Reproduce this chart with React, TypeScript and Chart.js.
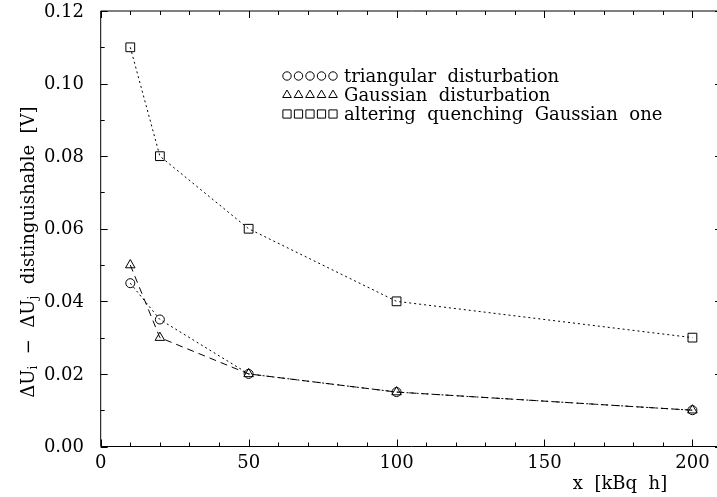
import React, { useEffect, useRef } from "react";
import { Chart, registerables } from "chart.js";

Chart.register(...registerables);

// ---- data ----
const xValues = [10, 20, 50, 100, 200];
const triangularValues = [0.045, 0.035, 0.02, 0.015, 0.01];
const gaussianValues = [0.05, 0.03, 0.02, 0.015, 0.01];
const alteringValues = [0.11, 0.08, 0.06, 0.04, 0.03];
const seriesLabels = [
  "triangular  disturbation",
  "Gaussian  disturbation",
  "altering  quenching  Gaussian  one",
];
const xTickLabels = [0, 50, 100, 150, 200];
const yTickLabels = [0, 0.02, 0.04, 0.06, 0.08, 0.1, 0.12];
const xTitle = "x  [kBq  h]";

const FONT = "DejaVu Serif";

type Shape = "circle" | "triangle" | "rect";
const shapes: Shape[] = ["circle", "triangle", "rect"];
const radii = [4.5, 5.5, 6.2];

function drawMarker(ctx: CanvasRenderingContext2D, shape: Shape, x: number, y: number, r: number) {
  ctx.beginPath();
  if (shape === "circle") {
    ctx.arc(x, y, r, 0, Math.PI * 2);
  } else if (shape === "triangle") {
    let rad = 0;
    ctx.moveTo(x + Math.sin(rad) * r, y - Math.cos(rad) * r);
    rad += (2 * Math.PI) / 3;
    ctx.lineTo(x + Math.sin(rad) * r, y - Math.cos(rad) * r);
    rad += (2 * Math.PI) / 3;
    ctx.lineTo(x + Math.sin(rad) * r, y - Math.cos(rad) * r);
    ctx.closePath();
  } else {
    const s = Math.SQRT1_2 * r;
    ctx.rect(x - s, y - s, 2 * s, 2 * s);
  }
  ctx.stroke();
}

const framePlugin = {
  id: "frameAxes",
  beforeDatasetsDraw(chart: any) {
    const { ctx, chartArea } = chart;
    const xs = chart.scales.x;
    const ys = chart.scales.y;
    const { left, right, top, bottom } = chartArea;
    ctx.save();
    ctx.strokeStyle = "#000";
    ctx.lineWidth = 1;
    ctx.beginPath();
    ctx.rect(left, top, right - left, bottom - top);
    ctx.stroke();
    ctx.beginPath();
    for (let v = 0; v <= 210; v += 10) {
      const px = Math.round(xs.getPixelForValue(v)) + 0.5;
      const len = v % 50 === 0 ? 7 : 4;
      ctx.moveTo(px, bottom);
      ctx.lineTo(px, bottom - len);
      ctx.moveTo(px, top);
      ctx.lineTo(px, top + len);
    }
    for (let i = 0; i <= 12; i++) {
      const v = i / 100;
      const py = Math.round(ys.getPixelForValue(v)) + 0.5;
      const len = i % 2 === 0 ? 7 : 4;
      ctx.moveTo(left, py);
      ctx.lineTo(left + len, py);
      ctx.moveTo(right, py);
      ctx.lineTo(right - len, py);
    }
    ctx.stroke();
    ctx.restore();
  },
  afterDraw(chart: any) {
    const { ctx } = chart;
    const xs = chart.scales.x;
    const ys = chart.scales.y;
    ctx.save();
    ctx.fillStyle = "#000";
    ctx.strokeStyle = "#000";
    ctx.font = `18px "${FONT}"`;
    // x tick labels
    ctx.textAlign = "center";
    ctx.textBaseline = "middle";
    xTickLabels.forEach((v) => {
      ctx.fillText(String(v), xs.getPixelForValue(v), 463);
    });
    // y tick labels
    ctx.textAlign = "right";
    yTickLabels.forEach((v) => {
      ctx.fillText(v.toFixed(2), 84, ys.getPixelForValue(v) + 1);
    });
    // x title
    ctx.textAlign = "center";
    ctx.fillText(xTitle, 620, 484);
    // y title (rotated with subscripts)
    const pieces: [string, boolean][] = [
      ["ΔU", false],
      ["i", true],
      ["  −  ", false],
      ["ΔU", false],
      ["j", true],
      ["  distinguishable  [V]", false],
    ];
    const mainFont = `18px "${FONT}"`;
    const subFont = `12px "${FONT}"`;
    let total = 0;
    pieces.forEach(([t, sub]) => {
      ctx.font = sub ? subFont : mainFont;
      total += ctx.measureText(t).width;
    });
    ctx.translate(29, 252);
    ctx.rotate(-Math.PI / 2);
    let cx = -total / 2;
    ctx.textAlign = "left";
    ctx.textBaseline = "middle";
    pieces.forEach(([t, sub]) => {
      ctx.font = sub ? subFont : mainFont;
      ctx.fillText(t, cx, sub ? 5 : 0);
      cx += ctx.measureText(t).width;
    });
    ctx.setTransform(1, 0, 0, 1, 0, 0);
    // legend
    ctx.font = mainFont;
    ctx.textAlign = "left";
    ctx.textBaseline = "middle";
    ctx.lineWidth = 1;
    seriesLabels.forEach((label, k) => {
      const y = 76 + 19 * k;
      for (let j = 0; j < 5; j++) {
        drawMarker(ctx, shapes[k], 287 + 11.5 * j, y, k === 0 ? 4.2 : k === 1 ? 5 : 5.8);
      }
      ctx.fillText(label, 344, y + 1);
    });
    ctx.restore();
  },
};

function toPoints(vals: number[]) {
  return xValues.map((x, i) => ({ x, y: vals[i] }));
}

export default function App() {
  const ref = useRef<HTMLCanvasElement>(null);
  useEffect(() => {
    const seriesValues = [triangularValues, gaussianValues, alteringValues];
    const dashes = [
      [2, 3],
      [7, 5],
      [2, 3],
    ];
    const chart = new Chart(ref.current!, {
      type: "line",
      data: {
        datasets: seriesValues.map((vals, k) => ({
          label: seriesLabels[k],
          data: toPoints(vals),
          borderColor: "#000",
          borderWidth: 1,
          borderDash: dashes[k],
          backgroundColor: "rgba(0,0,0,0)",
          pointStyle: shapes[k],
          pointRadius: radii[k],
          pointBorderColor: "#000",
          pointBackgroundColor: "rgba(0,0,0,0)",
          pointBorderWidth: 1,
          fill: false,
          tension: 0,
        })),
      },
      options: {
        responsive: false,
        devicePixelRatio: 1,
        animation: false,
        layout: {
          autoPadding: false,
          padding: { left: 100.7, top: 11, right: 8, bottom: 50.5 },
        },
        plugins: {
          legend: { display: false },
          tooltip: { enabled: false },
        },
        scales: {
          x: { type: "linear", min: 0, max: 210, display: false },
          y: { type: "linear", min: 0, max: 0.12, display: false },
        },
      },
      plugins: [framePlugin],
    } as any);
    return () => chart.destroy();
  }, []);
  return (
    <div
      style={{
        position: "fixed",
        left: 0,
        top: 0,
        width: 717,
        height: 497,
        overflow: "hidden",
        background: "#fff",
      }}
    >
      <canvas ref={ref} width={730} height={497} style={{ display: "block", width: 730, height: 497 }} />
    </div>
  );
}
